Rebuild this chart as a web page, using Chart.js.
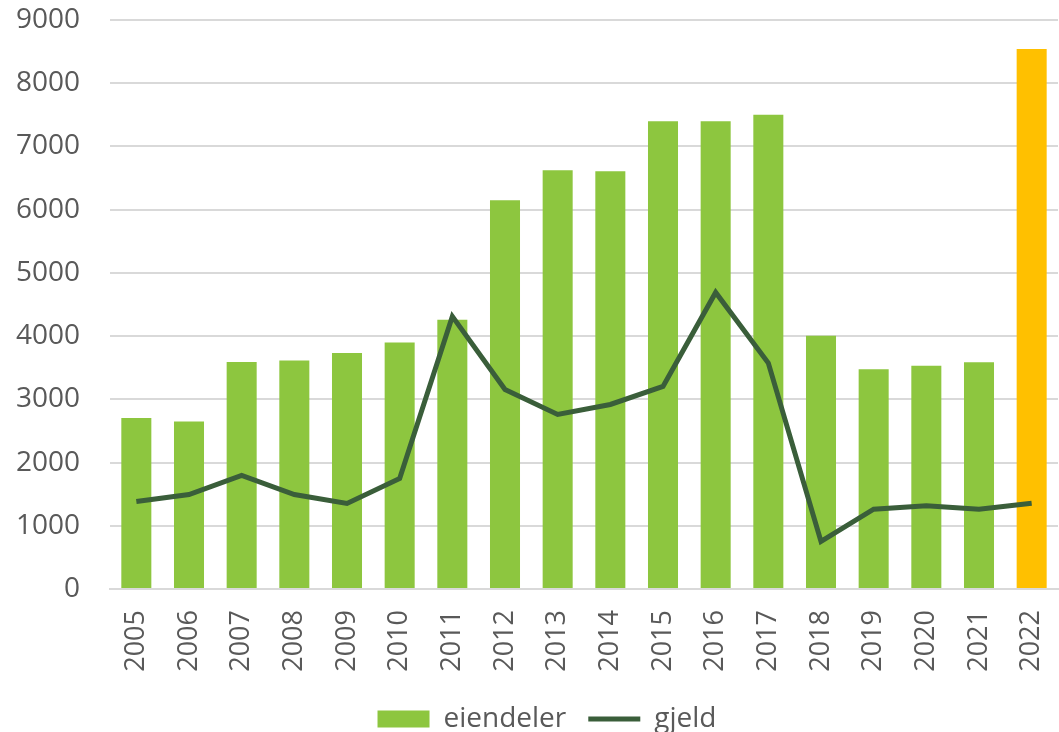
<!DOCTYPE html>
<html>
<head>
<meta charset="utf-8">
<script src="https://cdn.jsdelivr.net/npm/chart.js@4"></script>
<style>
html,body{margin:0;padding:0;background:#fff;}
#wrap{width:1059px;height:732px;}
</style>
</head>
<body>
<div id="wrap"><canvas id="c" width="1059" height="732"></canvas></div>
<script>
const years = ["2005","2006","2007","2008","2009","2010","2011","2012","2013","2014","2015","2016","2017","2018","2019","2020","2021","2022"];
const eiendeler = [2703,2650,3590,3616,3731,3900,4260,6150,6625,6606,7400,7400,7503,4006,3475,3532,3585,8540];
const gjeld = [1385,1495,1796,1495,1353,1748,4312,3157,2760,2919,3204,4691,3573,752,1263,1316,1263,1358];
const yTicks = [0,1000,2000,3000,4000,5000,6000,7000,8000,9000];

const GREEN = '#8DC63F';
const YELLOW = '#FFC000';
const DARK = '#3A5E3A';
const TXT = '#595959';
const FONT = "'Open Sans', sans-serif";

const shiftLegend = {
  id: 'shiftLegend',
  afterLayout(chart) {
    const lg = chart.legend;
    if (lg) { lg.left += 18; lg.right += 18; lg.top += 11; lg.bottom += 11; }
  }
};

new Chart(document.getElementById('c'), {
  type: 'bar',
  data: {
    labels: years,
    datasets: [
      {
        type: 'line',
        label: 'gjeld',
        data: gjeld,
        borderColor: DARK,
        backgroundColor: DARK,
        borderWidth: 5,
        pointRadius: 0,
        tension: 0,
        order: 0,
        pointStyle: 'line'
      },
      {
        type: 'bar',
        label: 'eiendeler',
        data: eiendeler,
        backgroundColor: ctx => ctx.dataIndex === years.length - 1 ? YELLOW : GREEN,
        borderWidth: 0,
        barPercentage: 0.57,
        categoryPercentage: 1.0,
        order: 1,
        pointStyle: 'rect'
      }
    ]
  },
  plugins: [shiftLegend],
  options: {
    responsive: false,
    animation: false,
    layout: { padding: { left: 0, right: 1, top: 20, bottom: 0 } },
    plugins: {
      tooltip: { enabled: false },
      legend: {
        position: 'bottom',
        reverse: true,
        labels: {
          usePointStyle: true,
          pointStyleWidth: 52,
          boxHeight: 17,
          padding: 22,
          color: TXT,
          font: { family: FONT, size: 28 }
        }
      }
    },
    scales: {
      x: {
        grid: { display: false, drawTicks: false },
        border: { display: true, color: '#D9D9D9', width: 2 },
        ticks: {
          color: TXT,
          font: { family: FONT, size: 27 },
          minRotation: 90,
          maxRotation: 90,
          padding: 21
        },
        afterFit: s => { s.height = 83; s.paddingLeft = 0; s.paddingRight = 0; }
      },
      y: {
        min: 0,
        max: 9000,
        afterBuildTicks: s => { s.ticks = yTicks.map(v => ({ value: v })); },
        grid: { color: '#D9D9D9', lineWidth: 2, drawTicks: false },
        border: { display: false },
        ticks: {
          color: TXT,
          font: { family: FONT, size: 28 },
          padding: 30,
          callback: v => String(v)
        },
        afterFit: s => { s.width = 110; s.paddingTop = 0; s.paddingBottom = 0; }
      }
    }
  }
});
</script>
</body>
</html>
